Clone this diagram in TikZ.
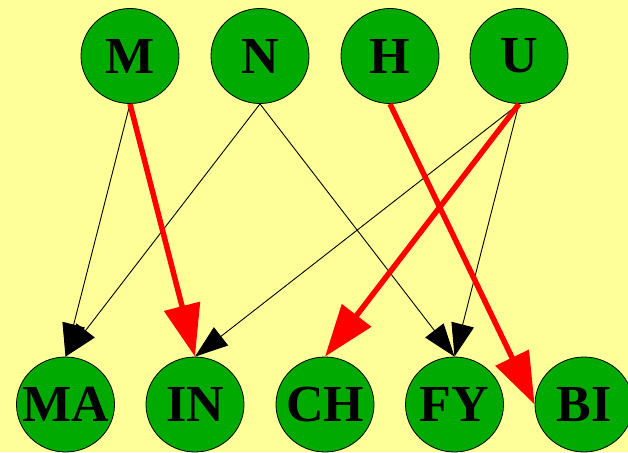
\documentclass[tikz,border=0pt]{standalone}
\usepackage{fontspec}
\setmainfont{Liberation Serif}
\usetikzlibrary{arrows.meta,shapes.geometric}
\definecolor{bgyellow}{RGB}{255,255,153}
\definecolor{nodegreen}{RGB}{0,170,0}
\definecolor{edgered}{RGB}{255,0,0}
\begin{document}
\begin{tikzpicture}[x=1pt,y=-1pt,
  vertex/.style={ellipse,draw=black,line width=0.8pt,fill=nodegreen,
    minimum width=98pt,minimum height=95pt,inner sep=0pt,
    font=\fontsize{52}{52}\selectfont\bfseries},
  thinedge/.style={draw=black,line width=0.9pt,
    -{Triangle[length=33pt,width=23pt]}},
  boldedge/.style={draw=edgered,line width=5.5pt,
    -{Triangle[length=52pt,width=36pt]}}]
  % canvas
  \fill[bgyellow] (0,0) rectangle (628,452);
  \useasboundingbox (0,0) rectangle (628,452);
  % upper row
  \node[vertex] (M) at (130,56) {\makebox[0pt]{M}};
  \node[vertex] (N) at (260,56) {\makebox[0pt]{N}};
  \node[vertex] (H) at (390,56) {\makebox[0pt]{H}};
  \node[vertex] (U) at (519,56) {\makebox[0pt]{U}};
  % lower row
  \node[vertex] (MA) at (65.5,404.5) {\makebox[0pt]{MA}};
  \node[vertex] (IN) at (195,404.5) {\makebox[0pt]{IN}};
  \node[vertex] (CH) at (325,404.5) {\makebox[0pt]{CH}};
  \node[vertex] (FY) at (454.5,404.5) {\makebox[0pt]{FY}};
  \node[vertex] (BI) at (584,404.5) {\makebox[0pt]{BI}};
  % thin edges
  \draw[thinedge] (M.south) -- (MA.north);
  \draw[thinedge] (N.south) -- (MA.north);
  \draw[thinedge] (N.south) -- (FY.north);
  \draw[thinedge] (U.south) -- (IN.north);
  \draw[thinedge] (U.south) -- (FY.north);
  % highlighted edges
  \draw[boldedge] (M.south) -- (IN.north);
  \draw[boldedge] (H.south) -- (BI.west);
  \draw[boldedge] (U.south) -- (CH.north);
\end{tikzpicture}
\end{document}
